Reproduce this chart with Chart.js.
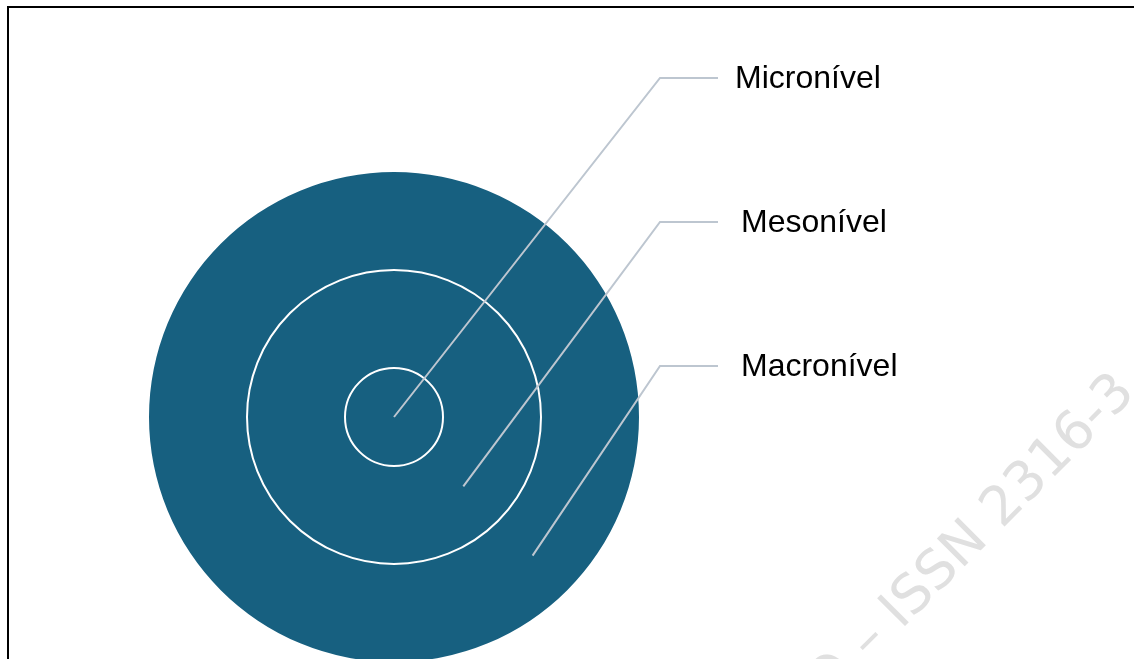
<!DOCTYPE html>
<html>
<head>
<meta charset="utf-8">
<title>Níveis</title>
<script src="https://cdn.jsdelivr.net/npm/chart.js@4.4.1/dist/chart.umd.min.js"></script>
<style>
    html, body { margin: 0; padding: 0; background: #fff; }
    #chartBox { position: relative; width: 1134px; height: 659px; }
</style>
</head>
<body>
<div id="chartBox">
    <canvas id="levelsChart"></canvas>
</div>
<script>
// outer ring first, inner circle last
const levelLabels = ['Macronível', 'Mesonível', 'Micronível'];
const levelValues = [1, 1, 1];
const ringWeights = [2, 2, 1];

const watermarkText = 'O \u2013 ISSN 2316-3';

const ringColor = '#176080';
const leaderColor = '#bdc6d0';

// frame lines + watermark behind the chart
const backdropPlugin = {
    id: 'backdrop',
    beforeDraw(chart) {
        const ctx = chart.ctx;
        ctx.save();
        ctx.fillStyle = '#000';
        ctx.fillRect(7, 6, 2, chart.height);
        ctx.fillRect(7, 6, chart.width, 2);

        ctx.translate(870, 661);
        ctx.rotate(-Math.PI / 4);
        ctx.font = '54px "DejaVu Sans"';
        ctx.fillStyle = '#e0e0e0';
        ctx.textAlign = 'left';
        ctx.textBaseline = 'alphabetic';
        const pre = watermarkText.slice(0, 2);
        ctx.fillText(watermarkText, -ctx.measureText(pre).width, 0);
        ctx.restore();
    }
};

// white ring edges, then leader lines from each ring to its label
const leaderPlugin = {
    id: 'leaders',
    afterDraw(chart, args, opts) {
        const ctx = chart.ctx;
        ctx.save();
        ctx.lineWidth = 2;
        ctx.strokeStyle = '#ffffff';
        chart.data.datasets.forEach((ds, i) => {
            const arc = chart.getDatasetMeta(i).data[0];
            if (arc.innerRadius > 0) {
                ctx.beginPath();
                ctx.arc(arc.x, arc.y, arc.innerRadius, 0, Math.PI * 2);
                ctx.stroke();
            }
        });

        ctx.strokeStyle = leaderColor;
        ctx.font = '32px "Liberation Sans", Arial, sans-serif';
        ctx.fillStyle = '#000';
        ctx.textAlign = 'left';
        ctx.textBaseline = 'alphabetic';
        chart.data.datasets.forEach((ds, i) => {
            const arc = chart.getDatasetMeta(i).data[0];
            const mid = arc.innerRadius > 0 ? (arc.innerRadius + arc.outerRadius) / 2 : 0;
            const ax = arc.x + mid * Math.cos(Math.PI / 4);
            const ay = arc.y + mid * Math.sin(Math.PI / 4);
            const rowY = opts.rowY[i];
            ctx.beginPath();
            ctx.moveTo(ax, ay);
            ctx.lineTo(opts.elbowX, rowY);
            ctx.lineTo(opts.endX, rowY);
            ctx.stroke();
            ctx.fillText(ds.label, opts.textX[i], rowY + 10);
        });
        ctx.restore();
    }
};

const ctx = document.getElementById('levelsChart').getContext('2d');
const levelsChart = new Chart(ctx, {
    type: 'pie',
    data: {
        labels: ['nível'],
        datasets: levelLabels.map((label, i) => ({
            label: label,
            data: [levelValues[i]],
            weight: ringWeights[i],
            backgroundColor: ringColor,
            borderWidth: 0,
        }))
    },
    options: {
        responsive: true,
        maintainAspectRatio: false,
        animation: false,
        events: [],
        radius: 245,
        cutout: 0,
        layout: {
            padding: { left: 0, right: 346, top: 175, bottom: 0 }
        },
        plugins: {
            legend: { display: false },
            tooltip: { enabled: false },
            leaders: {
                elbowX: 660,
                endX: 718,
                rowY: [366, 222, 78],
                textX: [741, 741, 735],
            }
        }
    },
    plugins: [backdropPlugin, leaderPlugin]
});
</script>
</body>
</html>
